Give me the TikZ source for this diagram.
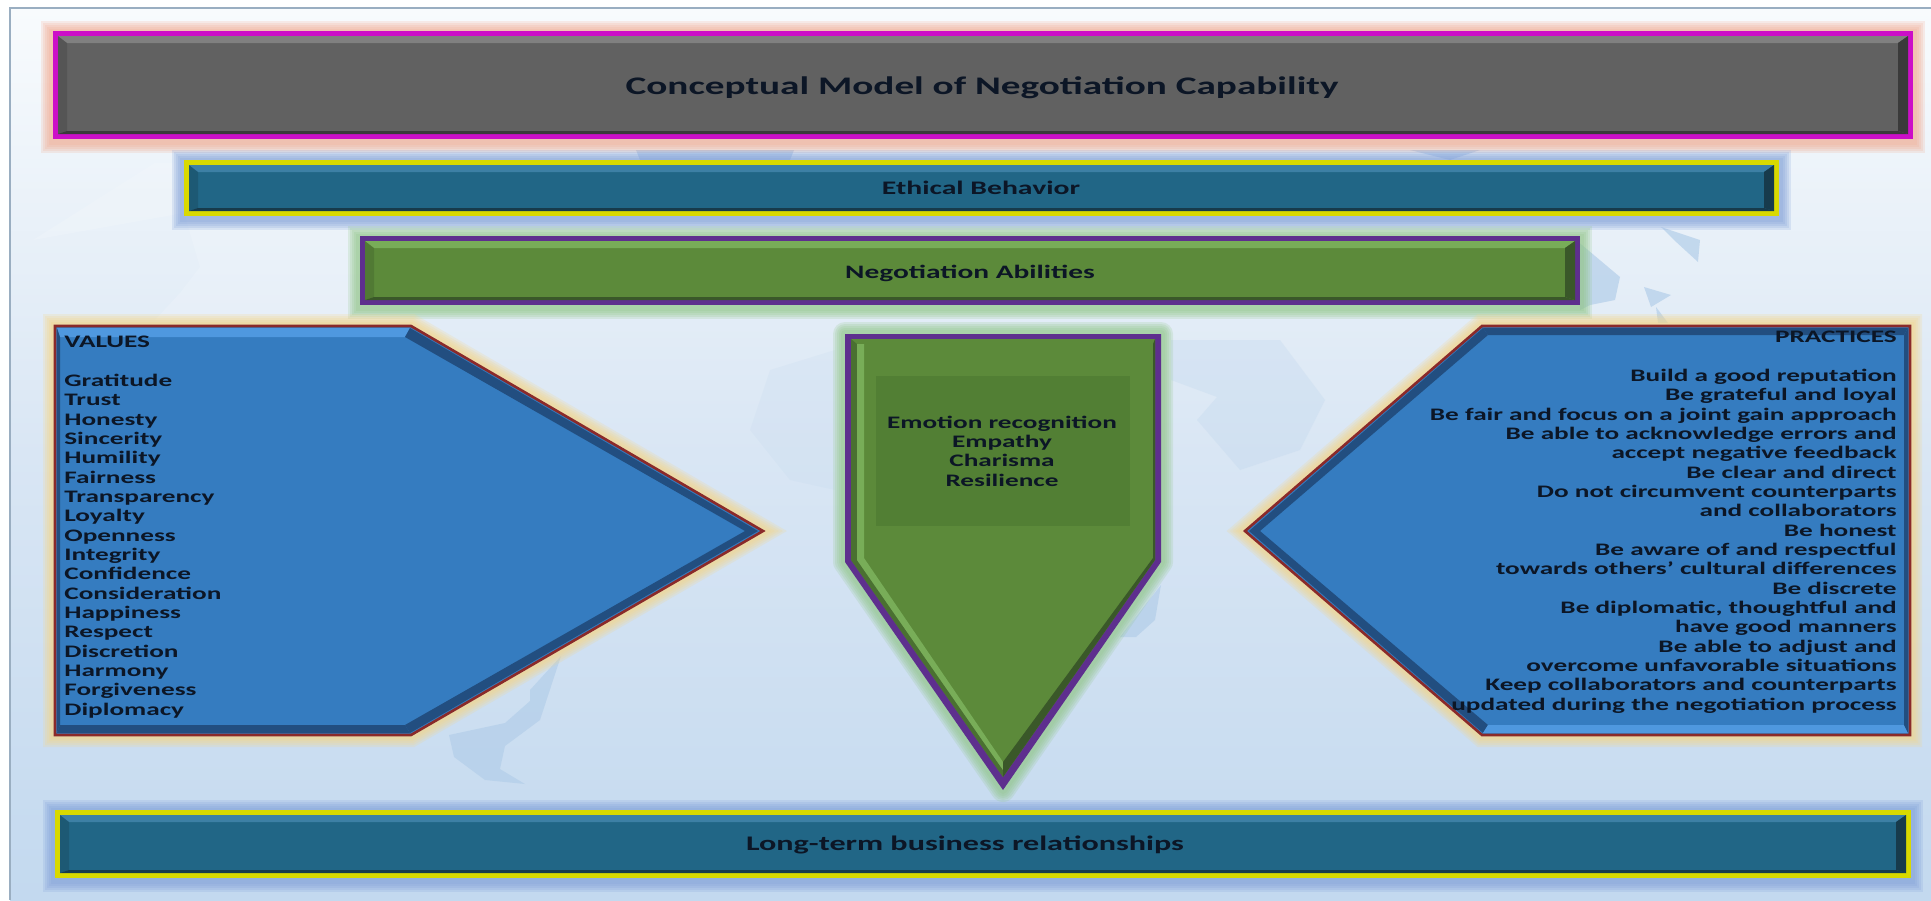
\documentclass[tikz,border=0pt]{standalone}
\usepackage{fontspec}
\usepackage{xcolor}
\newfontfamily\diagfont[FakeStretch=1.55]{Carlito}
\definecolor{pagetop}{HTML}{F8FBFD}
\definecolor{pagemid}{HTML}{D9E6F4}
\definecolor{pagelow}{HTML}{C3D9EF}
\definecolor{landblue}{HTML}{B3CEE9}
\definecolor{greyfill}{HTML}{616161}
\definecolor{greyedge}{HTML}{CC0FC8}
\definecolor{greyglow}{HTML}{F2A98F}
\definecolor{greylite}{HTML}{808080}
\definecolor{greydark}{HTML}{3A3A3A}
\definecolor{tealfill}{HTML}{216686}
\definecolor{tealedge}{HTML}{D9D900}
\definecolor{tealglow}{HTML}{7F9FD8}
\definecolor{teallite}{HTML}{3D80A5}
\definecolor{tealdark}{HTML}{173B4C}
\definecolor{leaffill}{HTML}{5C8A3A}
\definecolor{leafedge}{HTML}{5E2F8E}
\definecolor{leafglow}{HTML}{8FC585}
\definecolor{leaflite}{HTML}{78AD58}
\definecolor{leafdark}{HTML}{3A5829}
\definecolor{leafbox}{HTML}{527F34}
\definecolor{bluefill}{HTML}{357CC0}
\definecolor{blueedge}{HTML}{8A2A2A}
\definecolor{blueglow}{HTML}{F6D583}
\definecolor{bluelite}{HTML}{4F98DF}
\definecolor{bluedark}{HTML}{224E80}
\definecolor{inktext}{HTML}{0C1626}
\tikzset{
  label/.style={inner sep=0pt,text=inktext,font=\diagfont\bfseries\fontsize{#1}{#1}\selectfont},
  listing/.style={inner sep=0pt,text=inktext,font=\diagfont\bfseries\fontsize{10}{11}\selectfont},
  land/.style={fill=landblue,draw=none,opacity=.7},
}
% x y x y prefix
\newcommand{\bevelbar}[5]{
\foreach \w in {24,20,16,12,8}{
\draw[#5glow,opacity=.2,line width=\w*0.569pt] (#1,#2+2) rectangle (#3,#4+2);}
\fill[#5edge] (#1,#2) rectangle (#3,#4);
\fill[#5fill] (#1+5,#2+5) rectangle (#3-5,#4-5);
\fill[#5lite] (#1+5,#2+5) -- (#3-5,#2+5) -- (#3-15,#2+12) -- (#1+14,#2+12) -- cycle;
\fill[#5dark] (#3-5,#2+5) -- (#3-5,#4-5) -- (#3-15,#4-8) -- (#3-15,#2+12) -- cycle;
\fill[#5dark] (#1+5,#4-5) -- (#3-5,#4-5) -- (#3-15,#4-8) -- (#1+14,#4-8) -- cycle;
\fill[#5dark,opacity=.3] (#1+5,#2+5) -- (#1+14,#2+12) -- (#1+14,#4-8) -- (#1+5,#4-5) -- cycle;
}
\begin{document}
\begin{tikzpicture}[x=0.02cm,y=-0.02cm]
\useasboundingbox (0,0) rectangle (1931,900);
\fill[white] (0,0) rectangle (1931,900);
\shade[top color=pagetop,bottom color=pagelow,middle color=pagemid] (10,8) rectangle (1931,900);
\draw[color=landblue!80!black!90,line width=0.8pt] (10,900) -- (10,8) -- (1931,8);

% world map behind the boxes
\fill[white,opacity=.15] (155,163) -- (33,240) -- (184,213) -- (200,267) -- (180,293) -- (155,320) -- (400,320) -- (400,163) -- cycle;
\fill[land] (561,656) -- (530,690) -- (530,701) -- (505,723) -- (449,735) -- (454,757) -- (485,780) -- (525,784) -- (500,769) -- (505,746) -- (540,720) -- cycle;
\fill[land,opacity=.12] (770,370) -- (835,350) -- (835,490) -- (790,480) -- (750,430) -- cycle;
\fill[land,opacity=.22] (1171,380) -- (1217,397) -- (1197,420) -- (1240,470) -- (1300,450) -- (1325,400) -- (1280,340) -- (1171,340) -- cycle;
\fill[land] (1161,585) -- (1155,620) -- (1136,637) -- (1120,637) -- cycle;
\fill[land] (1576,240) -- (1620,277) -- (1615,300) -- (1590,305) -- (1580,310) -- cycle;
\fill[land] (1661,227) -- (1700,240) -- (1698,262) -- (1674,240) -- cycle;
\fill[land] (1644,287) -- (1671,295) -- (1651,307) -- cycle;
\fill[land] (1656,307) -- (1668,323) -- (1658,323) -- cycle;
\fill[land] (636,150) -- (794,150) -- (790,160) -- (640,160) -- cycle;
\fill[land] (1410,150) -- (1480,150) -- (1450,160) -- cycle;

\bevelbar{53}{31}{1913}{139}{grey}
\bevelbar{184}{160}{1779}{216}{teal}
\bevelbar{360}{236}{1580}{305}{leaf}
\bevelbar{55}{810}{1911}{878}{teal}

% values
\foreach \w in {24,20,16,12,8}{
\draw[blueglow,opacity=.2,line width=\w*0.569pt,line join=miter] (55,326) -- (411,326) -- (763,531) -- (411,735) -- (55,735) -- cycle;}
\fill[bluefill,draw=blueedge,line width=1.5pt] (55,326) -- (411,326) -- (763,531) -- (411,735) -- (55,735) -- cycle;
\fill[bluelite] (57,328) -- (410,328) -- (405,337) -- (60,337) -- cycle;
\fill[bluedark] (410,328) -- (758,531) -- (745,531) -- (405,337) -- cycle;
\fill[bluedark] (758,531) -- (410,733) -- (405,725) -- (745,531) -- cycle;
\fill[bluedark] (57,733) -- (410,733) -- (405,725) -- (60,725) -- cycle;
\fill[bluedark] (57,328) -- (60,337) -- (60,725) -- (57,733) -- cycle;
\node[listing,anchor=north west,align=left] (valuestext) at (64,336) {VALUES\\[0pt]\\[0pt]Gratitude\\Trust\\Honesty\\Sincerity\\Humility\\Fairness\\Transparency\\Loyalty\\Openness\\Integrity\\Confidence\\Consideration\\Happiness\\Respect\\Discretion\\Harmony\\Forgiveness\\Diplomacy};

% practices
\foreach \w in {24,20,16,12,8}{
\draw[blueglow,opacity=.2,line width=\w*0.569pt,line join=miter] (1910,326) -- (1482,326) -- (1245,531) -- (1482,735) -- (1910,735) -- cycle;}
\fill[bluefill,draw=blueedge,line width=1.5pt] (1910,326) -- (1482,326) -- (1245,531) -- (1482,735) -- (1910,735) -- cycle;
\fill[bluedark] (1908,328) -- (1483,328) -- (1488,335) -- (1904,335) -- cycle;
\fill[bluedark] (1483,328) -- (1249,531) -- (1260,531) -- (1488,335) -- cycle;
\fill[bluedark] (1249,531) -- (1483,733) -- (1488,725) -- (1260,531) -- cycle;
\fill[bluelite] (1908,733) -- (1483,733) -- (1488,725) -- (1904,725) -- cycle;
\fill[bluedark] (1908,328) -- (1904,335) -- (1904,725) -- (1908,733) -- cycle;
\node[listing,anchor=north east,align=right] (practicestext) at (1897,331) {PRACTICES\\[0pt]\\[0pt]Build a good reputation\\Be grateful and loyal\\Be fair and focus on a joint gain approach\\Be able to acknowledge errors and\\accept negative feedback\\Be clear and direct\\Do not circumvent counterparts\\and collaborators\\Be honest\\Be aware of and respectful\\towards others’ cultural differences\\Be discrete\\Be diplomatic, thoughtful and\\have good manners\\Be able to adjust and\\overcome unfavorable situations\\Keep collaborators and counterparts\\updated during the negotiation process};

% abilities
\foreach \w in {24,20,16,12,8}{
\draw[leafglow,opacity=.2,line width=\w*0.569pt,line join=round] (845,334) -- (1161,334) -- (1161,562) -- (1003,790) -- (845,562) -- cycle;}
\fill[leafedge] (845,334) -- (1161,334) -- (1161,562) -- (1003,790) -- (845,562) -- cycle;
\fill[leaffill] (851,339) -- (1155,339) -- (1155,560) -- (1003,777) -- (851,560) -- cycle;
\fill[leafdark,opacity=.5] (851,339) -- (857,344) -- (857,560) -- (1003,770) -- (1003,777) -- (851,560) -- cycle;
\fill[leaflite] (857,344) -- (864,344) -- (864,558) -- (1003,762) -- (1003,770) -- (857,560) -- cycle;
\fill[leafdark] (1155,339) -- (1153,344) -- (1153,558) -- (1003,762) -- (1003,777) -- (1155,560) -- cycle;
\fill[leafbox] (876,376) rectangle (1130,526);
\node[listing,align=center] (abilitytext) at (1002,451) {Emotion recognition\\Empathy\\Charisma\\Resilience};

\node[label=14.4] (titletext) at (982,88) {Conceptual Model of Negotiation Capability};
\node[label=10.9] (ethicstext) at (981,188) {Ethical Behavior};
\node[label=10.8] (abilitiestext) at (970,273) {Negotiation Abilities};
\node[label=11.8] (longtermtext) at (965,845) {Long-term business relationships};

\end{tikzpicture}
\end{document}
